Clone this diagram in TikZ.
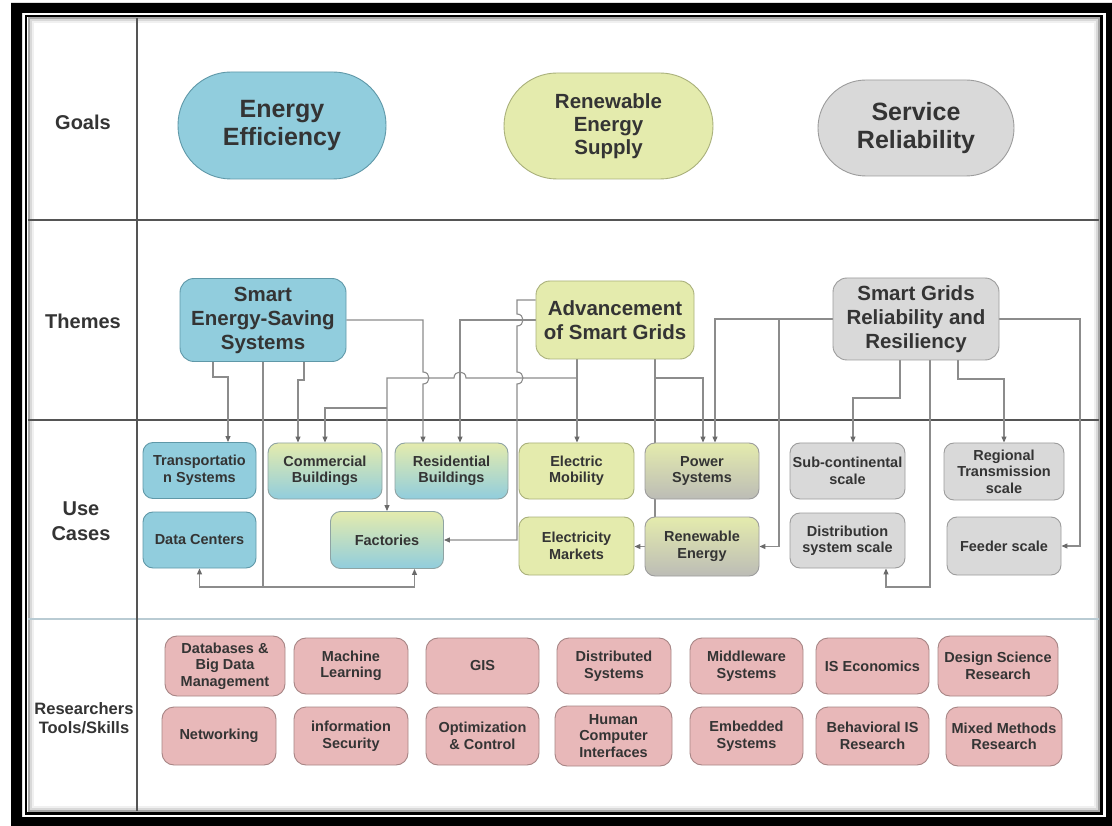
\documentclass[tikz,border=0pt]{standalone}
\usepackage{fontspec}
\setmainfont{Liberation Sans}
\usetikzlibrary{arrows.meta}
\pgfdeclarelayer{back}
\pgfdeclarelayer{mid}
\pgfsetlayers{back,mid,main}

\definecolor{ink}{HTML}{343434}
\definecolor{eblue}{HTML}{91CDDD}
\definecolor{eblueD}{HTML}{5F98A8}
\definecolor{eyel}{HTML}{E4EBAD}
\definecolor{eyelD}{HTML}{A9B07B}
\definecolor{egray}{HTML}{D9D9D9}
\definecolor{egrayD}{HTML}{9C9C9C}
\definecolor{egrayB}{HTML}{BCBCB6}
\definecolor{epink}{HTML}{E8B8B9}
\definecolor{epinkD}{HTML}{A78585}
\definecolor{mixD}{HTML}{8FA3A3}
\definecolor{lineC}{HTML}{8C8C8C}
\definecolor{tipC}{HTML}{6A6A6A}
\definecolor{gridC}{HTML}{555555}
\definecolor{gridL}{HTML}{B9CBD3}

\newcommand\fGoal{\fontsize{25}{28}\selectfont\bfseries}
\newcommand\fGoalS{\fontsize{20.5}{23}\selectfont\bfseries}
\newcommand\fTheme{\fontsize{20.5}{24}\selectfont\bfseries}
\newcommand\fRow{\fontsize{20}{25}\selectfont\bfseries}
\newcommand\fRowS{\fontsize{16.5}{19}\selectfont\bfseries}
\newcommand\fUC{\fontsize{14.5}{16.5}\selectfont\bfseries}

\begin{document}
\begin{tikzpicture}[x=1pt,y=-1pt,
  sz/.style 2 args={minimum width=#1pt, minimum height=#2pt},
  basebox/.style={inner sep=0pt, align=center, text=ink, line width=0.9pt},
  goal/.style={basebox, font=\fGoal},
  theme/.style={basebox, rounded corners=14pt, font=\fTheme},
  uc/.style={basebox, rounded corners=10pt, font=\fUC},
  tool/.style={basebox, rounded corners=12pt, font=\fUC, fill=epink, draw=epinkD},
  blues/.style={fill=eblue, draw=eblueD},
  yels/.style={fill=eyel, draw=eyelD},
  grays/.style={fill=egray, draw=egrayD},
  yb/.style={top color=eyel, bottom color=eblue, draw=mixD},
  yg/.style={top color=eyel, bottom color=egrayB, draw=egrayD},
  rowlabel/.style={align=center, text=ink, inner sep=0pt},
  conn/.style={draw=lineC, line width=1.1pt},
  arr/.style={conn, -{Triangle[length=6pt,width=5pt,color=tipC]}},
  gridline/.style={draw=gridC, line width=1.3pt}
]
\useasboundingbox (0,0) rectangle (1112,826);

% ---------- frame and swim-lane grid ----------
\begin{pgfonlayer}{back}
  \fill[white] (0,0) rectangle (1112,826);
  \fill[black, even odd rule] (11,3) rectangle (1112,826) (22,13) rectangle (1106,817);
  \draw[black, line width=2.5pt] (26,16) rectangle (1101.5,813.5);
  \draw[black!35, line width=2pt] (28.5,18.5) rectangle (1099,811);
  \draw[black!15, line width=2pt] (30.5,20.5) rectangle (1097,809);
  \draw[black!6, line width=2pt] (32.5,22.5) rectangle (1095,807);
  \draw[gridline] (28,220) -- (1099,220);
  \draw[gridline] (28,420) -- (1099,420);
  \draw[draw=gridL, line width=1.3pt] (28,619) -- (1099,619);
  \draw[draw=gridC, line width=1.1pt] (137,18) -- (137,811);
\end{pgfonlayer}

% ---------- row labels ----------
\node[rowlabel, font=\fRow] (lgoals) at (83,122) {Goals};
\node[rowlabel, font=\fRow] (lthemes) at (83,321) {Themes};
\node[rowlabel, font=\fRow] (luse) at (81,521) {Use\\Cases};
\node[rowlabel, font=\fRowS] (ltools) at (84,718) {Researchers\\Tools/Skills};

% ---------- goals ----------
\node[goal, blues, sz={208}{107}, rounded corners=53pt] (g1) at (282,125.5) {Energy\\Efficiency};
\node[goal, yels, sz={209}{106}, rounded corners=53pt, font=\fGoalS] (g2) at (608.5,126) {Renewable\\Energy\\Supply};
\node[goal, grays, sz={196}{96}, rounded corners=48pt] (g3) at (916,128) {Service\\Reliability};

% ---------- themes ----------
\node[theme, blues, sz={166}{83}] (ses) at (263,320) {Smart\\Energy-Saving\\Systems};
\node[theme, yels, sz={158}{78}] (adv) at (615,320) {Advancement\\of Smart Grids};
\node[theme, grays, sz={166}{82}] (sgr) at (916,319) {Smart Grids\\Reliability and\\Resiliency};

% ---------- use cases ----------
\node[uc, blues, sz={113}{56}] (trans) at (199.5,470.5) {Transportatio\\n Systems};
\node[uc, blues, sz={113}{56}] (dc) at (199.5,540) {Data Centers};
\node[uc, yb, sz={114}{56}] (com) at (325,471) {Commercial\\Buildings};
\node[uc, yb, sz={113}{56}] (res) at (451.5,471) {Residential\\Buildings};
\node[uc, yb, sz={113}{57}] (fac) at (387,540) {Factories};
\node[uc, yels, sz={115}{56}] (emob) at (576.5,471) {Electric\\Mobility};
\node[uc, yels, sz={115}{58}] (emkt) at (576.5,546) {Electricity\\Markets};
\node[uc, yg, sz={114}{56}] (pow) at (702,471) {Power\\Systems};
\node[uc, yg, sz={114}{59}] (ren) at (702,546.5) {Renewable\\Energy};
\node[uc, grays, sz={115}{56}] (sub) at (847.5,471) {Sub-continental\\scale};
\node[uc, grays, sz={115}{55}] (dist) at (847.5,540.5) {Distribution\\system scale};
\node[uc, grays, sz={120}{57}] (reg) at (1004,471.5) {Regional\\Transmission\\scale};
\node[uc, grays, sz={114}{58}] (feed) at (1004,546) {Feeder scale};

% ---------- researchers' tools and skills ----------
\node[tool, sz={120}{60}] (t1) at (225,666) {Databases \&\\Big Data\\Management};
\node[tool, sz={114}{56}] (t2) at (351,666) {Machine\\Learning};
\node[tool, sz={113}{56}] (t3) at (482.5,666) {GIS};
\node[tool, sz={114}{56}] (t4) at (614,666) {Distributed\\Systems};
\node[tool, sz={113}{56}] (t5) at (746.5,666) {Middleware\\Systems};
\node[tool, sz={113}{56}] (t6) at (872.5,666) {IS Economics};
\node[tool, sz={120}{60}] (t7) at (998,666) {Design Science\\Research};
\node[tool, sz={114}{58}] (u1) at (219,736) {Networking};
\node[tool, sz={114}{58}] (u2) at (351,736) {information\\Security};
\node[tool, sz={113}{58}] (u3) at (482.5,736) {Optimization\\\& Control};
\node[tool, sz={117}{60}] (u4) at (613.5,736) {Human\\Computer\\Interfaces};
\node[tool, sz={113}{58}] (u5) at (746.5,736) {Embedded\\Systems};
\node[tool, sz={113}{58}] (u6) at (872.5,736) {Behavioral IS\\Research};
\node[tool, sz={116}{59}] (u7) at (1004,736.5) {Mixed Methods\\Research};

% ---------- connectors ----------
\coordinate (j1) at (263,587);
\coordinate (b1) at (577,378);
\coordinate (b2) at (387,408);
\coordinate (b4) at (655,378);
\coordinate (b5) at (779,319);
\begin{pgfonlayer}{mid}
  % Smart Energy-Saving Systems
  \draw[arr] ([xshift=-50pt]ses.south) -- (213,377) -| ([xshift=28.5pt]trans.north);
  \draw[arr] ([xshift=41pt]ses.south) -- (304,380) -| ([xshift=-27pt]com.north);
  \draw[conn] (ses.south) -- (j1);
  \draw[arr] (j1) -| (dc.south);
  \draw[arr] (j1) -| ([xshift=27.5pt]fac.south);
  \draw[arr] (ses.east) -- (423,320) -- (423,372)
     .. controls (431,372) and (431,384) .. (423,384) -- ([xshift=-28.5pt]res.north);
  % Advancement of Smart Grids
  \draw[arr] ([xshift=-38pt]adv.south) -- ([xshift=0.5pt]emob.north);
  \draw[arr] (b1) -- (466,378) .. controls (466,370) and (454,370) .. (454,378)
     -- (387,378) -- (fac.north);
  \draw[arr] (b2) -| (com.north);
  \draw[arr] (adv.west) -- (460,320) -- ([xshift=8.5pt]res.north);
  \draw[arr] ([yshift=20pt]adv.west) -- (517,300) -- (517,314)
     .. controls (525,314) and (525,326) .. (517,326) -- (517,372)
     .. controls (525,372) and (525,384) .. (517,384) -- (517,540) -- (fac.east);
  \draw[conn] ([xshift=40pt]adv.south) -- ([xshift=-47pt]ren.north);
  \draw[arr] (b4) -| ([xshift=1pt]pow.north);
  \draw[arr] (ren.west) -- (ren.west -| emkt.east);
  % Smart Grids Reliability and Resiliency
  \draw[arr] (sgr.west) -| ([xshift=13pt]pow.north);
  \draw[arr] (b5) |- (ren.east);
  \draw[arr] (sgr.east) -- (1080,319) |- (feed.east);
  \draw[arr] ([xshift=-16pt]sgr.south) -- (900,398) -| ([xshift=5.5pt]sub.north);
  \draw[arr] ([xshift=14pt]sgr.south) -- (930,587) -| ([xshift=38.5pt]dist.south);
  \draw[arr] ([xshift=42pt]sgr.south) -- (958,379) -| (reg.north);
\end{pgfonlayer}
\end{tikzpicture}
\end{document}
